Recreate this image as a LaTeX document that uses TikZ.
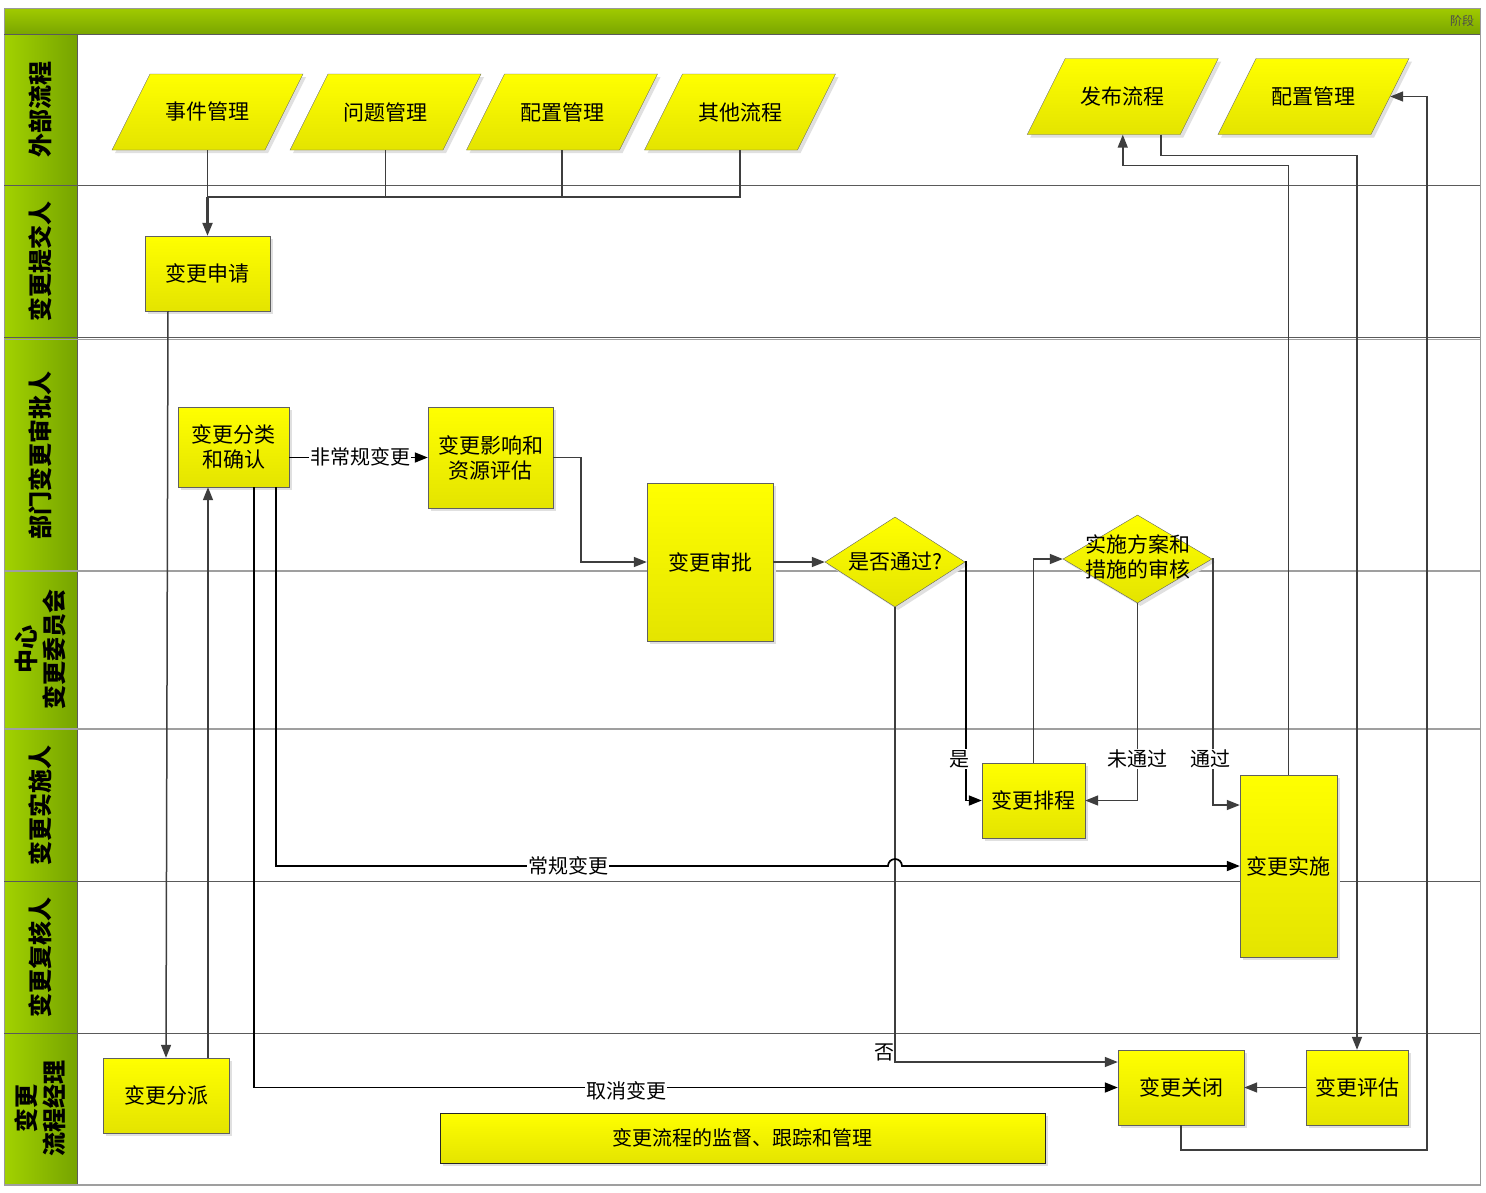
\documentclass[tikz,border=0pt]{standalone}
\usepackage{fontspec}
\newfontfamily\cjk{Noto Sans CJK SC}
\usetikzlibrary{shapes.geometric,arrows.meta,calc,shadows}
\definecolor{barT}{RGB}{160,202,0}
\definecolor{barB}{RGB}{122,166,0}
\definecolor{laneL}{RGB}{162,210,0}
\definecolor{laneR}{RGB}{118,164,0}
\definecolor{yT}{RGB}{255,255,0}
\definecolor{yB}{RGB}{228,228,0}
\definecolor{lineG}{RGB}{62,62,62}
\definecolor{sepG}{RGB}{90,90,90}
\newcommand\mkpara[4]{%
  \fill[black!12, shift={({#2+3},{#3+3})}] (-95.5,38) -- (-57.5,-38) -- (95.5,-38) -- (57.5,38) -- cycle;
  \path[draw=gray!80!black, top color=yT, bottom color=yB, shift={(#2,#3)}] (-95.5,38) -- (-57.5,-38) -- (95.5,-38) -- (57.5,38) -- cycle;
  \node[paratxt] (#1) at (#2,#3) {#4};
}
\begin{document}
\begin{tikzpicture}[x=1pt,y=-1pt,
  box/.style={draw=gray!75!black, top color=yT, bottom color=yB, inner sep=0pt, align=center,
    font=\cjk\fontsize{21}{25}\selectfont,
    general shadow={fill=black!12, shadow xshift=3pt, shadow yshift=-3pt}},
  paratxt/.style={inner sep=0pt, minimum width=153pt, minimum height=76pt, font=\cjk\fontsize{21}{25}\selectfont},
  dia/.style={diamond, draw=gray!75!black, top color=yT, bottom color=yB, inner sep=0pt,
    general shadow={fill=black!12, shadow xshift=3pt, shadow yshift=-3pt}},
  txt/.style={inner sep=0pt, align=center, font=\cjk\fontsize{21}{25}\selectfont},
  lanelbl/.style={rotate=90, align=center, inner sep=0pt, font=\cjk\bfseries\fontsize{24}{28}\selectfont},
  lbl/.style={fill=white, inner sep=1pt, font=\cjk\fontsize{20}{22}\selectfont},
  sep/.style={draw=sepG, line width=1pt},
  sepL/.style={draw=gray!75, line width=1.6pt},
  gline/.style={draw=lineG, line width=1.5pt},
  garrow/.style={gline, -{Triangle[length=13pt,width=10pt]}},
  barrow/.style={draw=black, line width=1.7pt, -{Triangle[length=13pt,width=10pt]}}
]
\useasboundingbox (0,0) rectangle (1486,1192);
\fill[white] (0,0) rectangle (1486,1192);
% lanes
\fill[left color=laneL, right color=laneR] (4,34) rectangle (77,1185);
\fill[top color=barT, bottom color=barB] (4,8.5) rectangle (1480,34);
\draw[gray!80] (4,8.5) rectangle (1480,1185);
\draw[sep] (4,34) -- (1480,34);
\draw[sep] (77,34) -- (77,1185);
\draw[sep] (4,185) -- (1480,185);
\draw[sep] (4,337) -- (1480,337);
\draw[sepL] (4,339.5) -- (1480,339.5);
\draw[sepL] (4,571) -- (1480,571);
\draw[sepL] (4,729) -- (1480,729);
\draw[sep] (4,881.5) -- (1480,881.5);
\draw[sep] (4,1033) -- (1480,1033);
\draw[gray!75, line width=2pt] (4,1185) -- (1480,1185);
\node[font=\cjk\fontsize{12}{14}\selectfont, text=gray!60!black, inner sep=0pt] (stage) at (1462,20.5) {阶段};
\node[lanelbl] (L1) at (40.5,109.5) {外部流程};
\node[lanelbl] (L2) at (40.5,261) {变更提交人};
\node[lanelbl] (L3) at (40.5,455) {部门变更审批人};
\node[lanelbl] (L4) at (40.5,649) {中心\\变更委员会};
\node[lanelbl] (L5) at (40.5,805) {变更实施人};
\node[lanelbl] (L6) at (40.5,957) {变更复核人};
\node[lanelbl] (L7) at (40.5,1108) {变更\\流程经理};
% parallelograms
\mkpara{evt}{207.5}{112}{事件管理}
\mkpara{prb}{385.5}{112}{问题管理}
\mkpara{cfg}{562}{112}{配置管理}
\mkpara{oth}{740}{112}{其他流程}
\mkpara{rel}{1122.75}{96.5}{发布流程}
\mkpara{cfgb}{1313.5}{96.5}{配置管理}
% boxes
\node[box, minimum width=125pt, minimum height=75pt] (req) at (207.5,273.5) {变更申请};
\node[box, minimum width=111pt, minimum height=80pt] (cls) at (233.5,447) {变更分类\\和确认};
\node[box, minimum width=125pt, minimum height=101pt] (imp) at (490.5,457.5) {变更影响和\\资源评估};
\node[box, minimum width=126pt, minimum height=158pt] (apv) at (710,562) {变更审批};
\node[dia, minimum width=140pt, minimum height=90pt] (ok) at (895,562) {};
\node[txt] (okt) at (ok.center) {是否通过?};
\node[dia, minimum width=149pt, minimum height=88pt] (rev) at (1137.5,559) {};
\node[txt] (revt) at (1137.5,557) {实施方案和\\措施的审核};
\node[box, minimum width=103pt, minimum height=75pt] (sch) at (1033.5,800.5) {变更排程};
\node[box, minimum width=97pt, minimum height=182pt] (impl) at (1288.5,866) {变更实施};
\node[box, minimum width=126pt, minimum height=75pt] (disp) at (166,1095.5) {变更分派};
\node[box, draw=black!85, minimum width=605pt, minimum height=50pt, font=\cjk\fontsize{20}{22}\selectfont] (mon) at (742.5,1138) {变更流程的监督、跟踪和管理};
\node[box, minimum width=126pt, minimum height=75pt] (close) at (1181,1087.5) {变更关闭};
\node[box, minimum width=102pt, minimum height=75pt] (eval) at (1357,1087.5) {变更评估};
% connectors
\coordinate (bus) at (207.5,197);
\draw[gline] (evt.south) -- (bus);
\draw[gline] (prb.south) -- (prb.south |- bus);
\draw[gline] (cfg.south) -- (cfg.south |- bus);
\draw[gline] (oth.south) |- (bus);
\draw[garrow, line width=2.2pt] (bus) -- (req.north);
\draw[garrow] ([xshift=-39.5pt]req.south) -- (disp.north);
\draw[garrow] ([xshift=42pt]disp.north) -- ([xshift=42pt]disp.north |- cls.south);
\draw[barrow] (cls.east |- imp.west) -- (imp.west);
\draw[garrow] (imp.east) -- ++(28,0) |- (apv.west);
\draw[garrow] (apv.east) -- (ok.west);
\draw[barrow] (ok.east) -- ++(1,0) |- (sch.west);
\draw[garrow] (ok.south) |- ([yshift=25.5pt]close.west);
\draw[garrow] (sch.north) |- (rev.west);
\draw[garrow] (rev.south) |- (sch.east);
\draw[garrow] (rev.east) -- ++(1,0) |- ([yshift=61pt]impl.west);
\coordinate (hop) at (ok.south |- impl.west);
\draw[barrow] ([xshift=42.5pt]cls.south) |- ([xshift=-7pt]hop) arc[start angle=180, end angle=0, radius=7pt] -- (impl.west);
\draw[barrow] ([xshift=20.5pt]cls.south) |- (close.west);
\draw[garrow] (eval.west) -- (close.east);
\coordinate (rc) at (1427,1150);
\draw[garrow] (close.south) |- (rc) |- (cfgb.east);
\draw[garrow] (impl.north) |- ([yshift=-31pt]rel.south) -- (rel.south);
\draw[garrow] ([xshift=38pt]rel.south) -- ++(0,21) -| (eval.north);
% labels
\node[lbl] (l1) at (360,457) {非常规变更};
\node[lbl] (l2) at (568,866) {常规变更};
\node[lbl] (l3) at (626,1091) {取消变更};
\node[lbl] (l4) at (959,759) {是};
\node[lbl] (l5) at (1137,759) {未通过};
\node[lbl] (l6) at (1210,759) {通过};
\node[lbl, fill=none] (l7) at (884,1052) {否};
\end{tikzpicture}
\end{document}
